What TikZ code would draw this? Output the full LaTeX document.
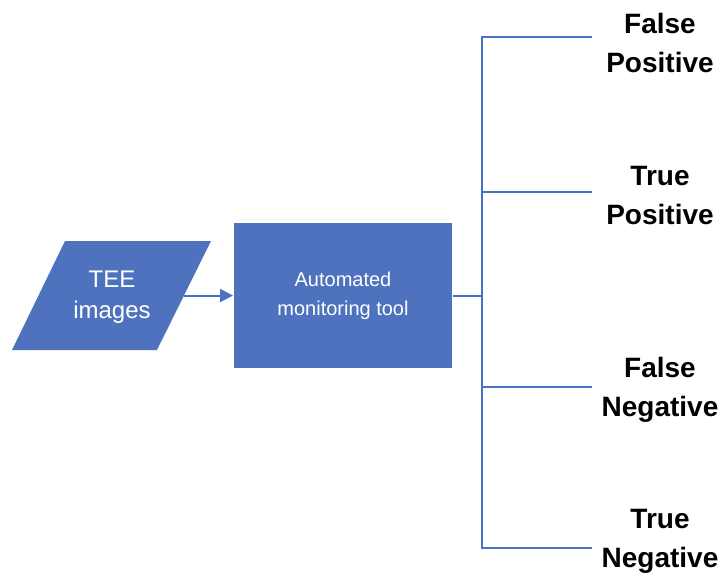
\documentclass[tikz,border=0pt]{standalone}
\usepackage{fontspec}
\setmainfont{Liberation Sans}
\usetikzlibrary{arrows.meta}

\definecolor{boxblue}{HTML}{4F72BE}
\definecolor{lineblue}{HTML}{4A72C4}

\begin{document}
\begin{tikzpicture}[line width=2pt, >={Triangle[length=13pt,width=13pt]}, x=1pt, y=-1pt,
  intext/.style={text=white, align=center, inner sep=0pt, font=\fontsize{24}{31}\selectfont},
  toolbox/.style={rectangle, fill=boxblue, text=white, align=center, minimum width=218pt,
    minimum height=145pt, inner sep=0pt, font=\fontsize{20}{29}\selectfont},
  outcome/.style={align=center, font=\bfseries\fontsize{28}{39}\selectfont, inner sep=0pt}]
  \useasboundingbox (0,0) rectangle (721,579);
  % input parallelogram
  \fill[boxblue] (65,241) -- (211,241) -- (157,350) -- (12,350) -- cycle;
  \node[intext] (tee) at (112,297) {TEE\\images};
  \coordinate (tee-east) at (184,295.5);
  \node[toolbox] (tool) at (343,295.5) {Automated\\monitoring tool};
  \draw[->, lineblue] (tee-east) -- (tool.west);
  % outcome tree
  \coordinate (hub) at (482,295.5);
  \coordinate (trunktop) at (482,36);
  \coordinate (trunkbot) at (482,549);
  \draw[lineblue] (tool.east) -- (hub);
  \draw[lineblue] (trunktop) -- (trunkbot);
  \foreach \y/\ly/\name/\txt in {37/43/fp/False\\Positive, 192/196/tp/True\\Positive,
      387/390/fn/False\\Negative, 548/541/tn/True\\Negative} {
    \coordinate (\name-in) at (482,\y);
    \coordinate (\name-out) at (592,\y);
    \draw[lineblue] (\name-in) -- (\name-out);
    \node[outcome] (\name) at (660,\ly) {\txt};
  }
\end{tikzpicture}
\end{document}
